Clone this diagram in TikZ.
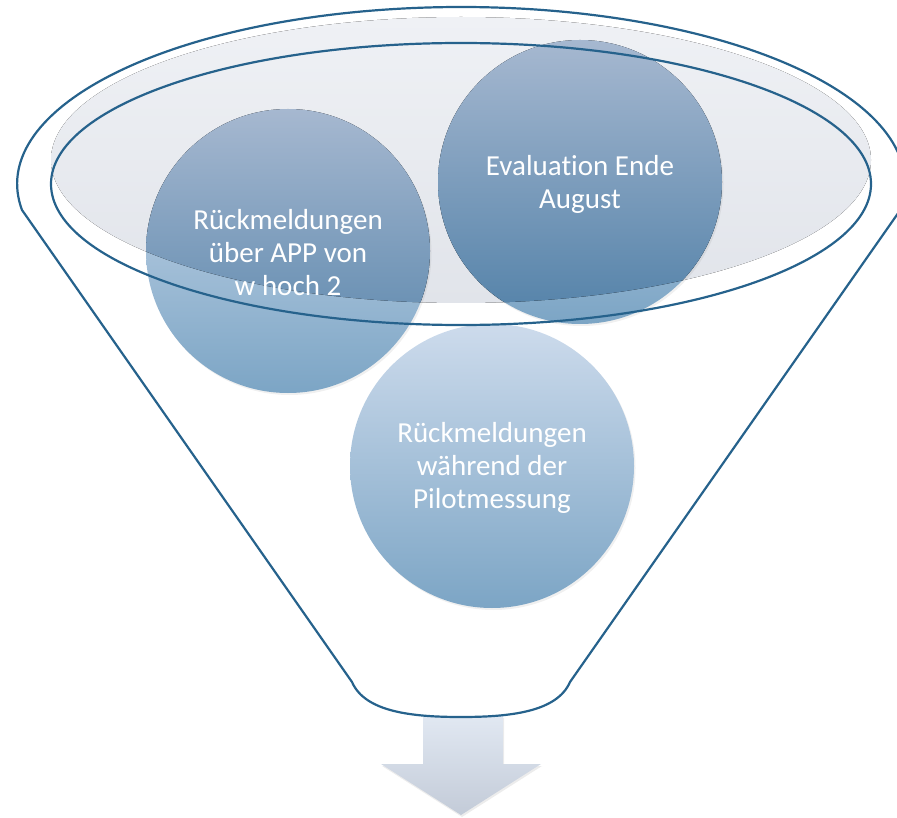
\documentclass[tikz,border=0pt]{standalone}
\usepackage{fontspec}
\setmainfont{Carlito}[Ligatures=NoCommon]
\usetikzlibrary{shadows}
\definecolor{fline}{RGB}{38,98,140}
\definecolor{gtop}{RGB}{239,241,245}
\definecolor{gbot}{RGB}{225,228,234}
\definecolor{ltop}{RGB}{205,219,236}
\definecolor{lbot}{RGB}{124,165,197}
\definecolor{dtop}{RGB}{166,184,208}
\definecolor{dbot}{RGB}{82,129,168}
\definecolor{atop}{RGB}{225,232,242}
\definecolor{abot}{RGB}{195,203,216}
\tikzset{
  funnel/.style={draw=fline, line width=2.2pt, line join=round},
  circ/.style={circle, minimum size=284pt, inner sep=0pt, top color=ltop, bottom color=lbot,
    drop shadow={opacity=0.12, shadow xshift=1.5pt, shadow yshift=-2pt}},
  darkpart/.style={top color=dtop, bottom color=dbot},
  lbl/.style={align=center, text=white, font=\fontsize{29}{33}\selectfont},
  arrowshape/.style={top color=atop, bottom color=abot,
    drop shadow={opacity=0.15, shadow xshift=1pt, shadow yshift=-2pt}}
}
\begin{document}
\begin{tikzpicture}[x=1pt,y=-1pt]
\useasboundingbox (0,0) rectangle (897,818);
% gray top ellipse
\fill[top color=gtop, bottom color=gbot] (461,160) ellipse [x radius=410pt, y radius=143pt];
% arrow
\path[arrowshape] (423,716) -- (503,716) -- (503,764) -- (541,764) -- (461,815) -- (381,764) -- (423,764) -- cycle;
% funnel outer outline
\draw[funnel] (352,682) -- (22,210)
  arc[start angle=188.45, end angle=-8.45, x radius=444pt, y radius=177pt]
  -- (570,682) .. controls (557,712) and (510,717) .. (461,717)
  .. controls (412,717) and (365,712) .. (352,682) -- cycle;
% circles
\node[circ] (c1) at (288,251) {};
\node[circ] (c2) at (580,182) {};
\node[circ] (c3) at (492,466) {};
\begin{scope}
  \clip (461,160) ellipse [x radius=410pt, y radius=143pt];
  \fill[darkpart] (c1.center) circle (142pt);
  \fill[darkpart] (c2.center) circle (142pt);
\end{scope}
% inner outline
\draw[funnel] (461,184) ellipse [x radius=410pt, y radius=141pt];
% labels
\node[lbl] (t1) at (288,253) {Rückmeldungen\\über APP von\\w hoch 2};
\node[lbl] (t2) at (580,184) {Evaluation Ende\\August};
\node[lbl] (t3) at (492,468) {Rückmeldungen\\während der\\Pilotmessung};
\end{tikzpicture}
\end{document}
